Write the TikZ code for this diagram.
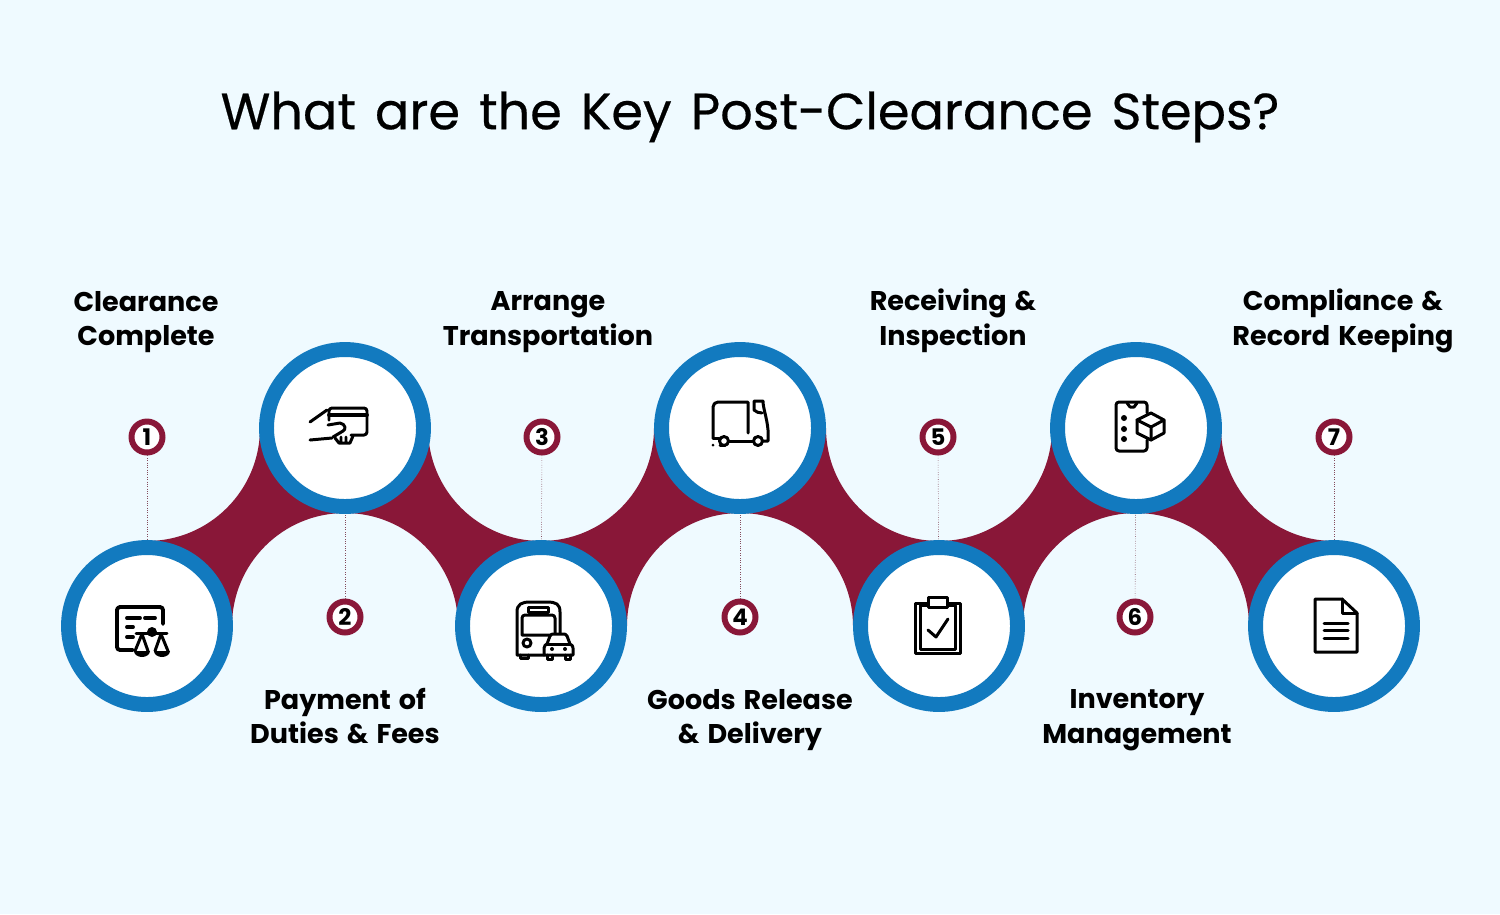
\documentclass[tikz,border=0pt]{standalone}
\usepackage{fontspec}
\setmainfont{Poppins}[WordSpace=1.4]
\definecolor{pagebg}{RGB}{239,250,255}
\definecolor{ringblue}{RGB}{18,122,191}
\definecolor{bandred}{RGB}{137,23,56}
\begin{document}
\begin{tikzpicture}[x=0.02cm,y=0.02cm]
\tikzstyle{every node}+=[inner sep=0pt]
\tikzstyle{stepring}=[circle,draw=ringblue,fill=white,line width=8.5pt,minimum size=3.14cm]
\tikzstyle{badge}=[circle,draw=bandred,fill=white,line width=3.4pt,minimum size=0.62cm,font=\fontsize{13}{13}\selectfont\bfseries]
\tikzstyle{steplabel}=[align=center,font=\fontsize{15.4}{19.8}\selectfont\bfseries]
\tikzstyle{pin}=[bandred!50!gray,densely dotted,line width=0.35pt]
\tikzstyle{icon}=[black,line width=1.7pt,line cap=round,line join=round]
\useasboundingbox (0,0) rectangle (1500,-914);
\fill [pagebg] (0,0) rectangle (1500,-914);
\node (title) at (750,-117) {\fontsize{29}{36}\selectfont\addfontfeature{FakeBold=0.4}What are the Key Post-Clearance Steps?};
\foreach \xa/\xb in {147/345,541/740,939/1136}
  \fill [bandred] (\xa,-541) arc (270:360:113) -- (\xb,-428) -- (\xb,-513) arc (90:180:113) -- (\xa,-626) -- cycle;
\foreach \xa/\xb in {345/541,740/939,1136/1334}
  \fill [bandred] (\xb,-541) arc (270:180:113) -- (\xa,-428) -- (\xa,-513) arc (90:0:113) -- (\xb,-626) -- cycle;
\node [stepring] (c1) at (147,-626) {};
\node [stepring] (c2) at (345,-428) {};
\node [stepring] (c3) at (541,-626) {};
\node [stepring] (c4) at (740,-428) {};
\node [stepring] (c5) at (939,-626) {};
\node [stepring] (c6) at (1136,-428) {};
\node [stepring] (c7) at (1334,-626) {};
\node [badge] (b1) at (147,-437) {1};
\node [badge] (b2) at (345,-617) {2};
\node [badge] (b3) at (542,-437) {3};
\node [badge] (b4) at (740,-617) {4};
\node [badge] (b5) at (938,-437) {5};
\node [badge] (b6) at (1135,-617) {6};
\node [badge] (b7) at (1334,-437) {7};
\foreach \i in {1,...,7}
  \draw [pin] (b\i) -- (c\i);
\node [steplabel] (l1) at (146,-322) {Clearance\\Complete};
\node [steplabel] (l2) at (345,-716) {Payment of\\Duties \& Fees};
\node [steplabel] (l3) at (548,-322) {Arrange\\Transportation};
\node [steplabel] (l4) at (750,-720) {Goods Release\\\& Delivery};
\node [steplabel] (l5) at (953,-321) {Receiving \&\\Inspection};
\node [steplabel] (l6) at (1137,-720) {Inventory\\Management};
\node [steplabel] (l7) at (1343,-321) {Compliance \&\\Record Keeping};
\draw [icon,line width=2.2pt] (133,-650) -- (120,-650) arc (270:180:3) -- (117,-610) arc (180:90:3) -- (160,-607) arc (90:0:3) -- (163,-624);
\draw [icon,line width=2.2pt] (127,-618) -- (140,-618) (145,-618) -- (155,-618) (127,-627) -- (133,-627) (127,-637) -- (133,-637);
\draw [icon] (136,-633) -- (167,-633);
\fill (152,-632) circle (5);
\draw [icon] (135,-651) -- (142,-634) -- (148,-651) (155,-651) -- (161,-634) -- (168,-651);
\fill (134,-651) arc (180:360:8 and 6) -- cycle;
\fill (154,-651) arc (180:360:8 and 6) -- cycle;
\draw [icon] (329,-420) -- (329,-411) arc (180:90:3) -- (364,-408) arc (90:0:3) -- (367,-432) arc (0:-90:3) -- (351,-435);
\draw [icon,line width=2.2pt] (329,-415) -- (367,-415);
\draw [icon] (310,-422) -- (327,-410);
\draw [icon] (310,-440) -- (332,-438);
\draw [icon] (328,-425) -- (340,-423) .. controls (346,-424) and (346,-430) .. (343,-431) -- (333,-437);
\draw [icon] (335,-438) -- (339,-443) -- (350,-443) -- (353,-436) (341,-437) -- (341,-443) (346,-437) -- (346,-443);
\draw [icon] (544,-655) -- (517,-655) -- (517,-612) .. controls (517,-604) and (522,-602) .. (530,-602) -- (547,-602) .. controls (556,-602) and (560,-604) .. (560,-612) -- (560,-633);
\draw [icon] (525,-615) -- (552,-615) arc (90:0:3) -- (555,-635) -- (522,-635) -- (522,-618) arc (180:90:3);
\draw [icon] (528,-607) rectangle (548,-612);
\draw [icon] (527,-643) circle (4);
\draw [icon] (520,-655) -- (520,-658) -- (528,-658) -- (528,-655);
\draw [icon,fill=white] (544,-655) -- (544,-648) .. controls (544,-645) and (546,-645) .. (547,-644) -- (550,-636) .. controls (551,-634) and (552,-634) .. (554,-634) -- (563,-634) .. controls (565,-634) and (566,-634) .. (567,-636) -- (570,-644) .. controls (572,-645) and (573,-646) .. (573,-648) -- (573,-655) -- cycle;
\draw [icon] (547,-644) -- (570,-644);
\draw [icon] (547,-655) -- (547,-659) -- (552,-659) -- (552,-655) (565,-655) -- (565,-659) -- (570,-659) -- (570,-655);
\fill (552,-649) circle (2);
\fill (565,-649) circle (2);
\draw [icon] (713,-438) -- (713,-407) arc (180:90:5) -- (748,-402) -- (748,-433);
\draw [icon] (713,-438) -- (719,-438) (729,-441) -- (753,-441);
\draw [icon] (724,-441) circle (4.5);
\draw [icon] (758,-441) circle (4.5);
\draw [icon] (763,-441) -- (768,-441) -- (768,-430) .. controls (767,-418) and (763,-408) .. (763,-401) -- (754,-401) -- (754,-410) .. controls (756,-412) and (759,-413) .. (762,-413);
\fill (713,-445) circle (1.5);
\draw [icon] (720,-445) -- (725,-445);
\draw [icon] (915,-603) rectangle (960,-653);
\draw [icon] (920,-605) rectangle (955,-649);
\draw [icon,fill=white] (928,-597) rectangle (947,-607);
\draw [icon] (928,-630) -- (936,-637) -- (948,-619);
\draw [icon] (1147,-413) -- (1147,-405) arc (0:90:3) -- (1119,-402) arc (90:180:3) -- (1116,-448) arc (180:270:3) -- (1144,-451) arc (270:360:3) -- (1147,-440);
\draw [icon] (1127,-403) -- (1130,-407) -- (1134,-407) -- (1137,-403);
\fill (1124,-418) circle (3);
\fill (1124,-429) circle (3);
\fill (1124,-439) circle (3);
\draw [icon] (1151,-413) -- (1164,-420) -- (1164,-433) -- (1151,-440) -- (1137,-433) -- (1137,-420) -- cycle;
\draw [icon] (1137,-420) -- (1151,-427) -- (1164,-420) (1151,-427) -- (1151,-440);
\draw [icon] (1342,-599) -- (1315,-599) -- (1315,-652) -- (1357,-652) -- (1357,-613) -- cycle;
\draw [icon] (1342,-599) -- (1342,-613) -- (1357,-613);
\draw [icon] (1324,-623) -- (1348,-623) (1324,-630) -- (1348,-630) (1324,-638) -- (1348,-638);
\end{tikzpicture}
\end{document}
